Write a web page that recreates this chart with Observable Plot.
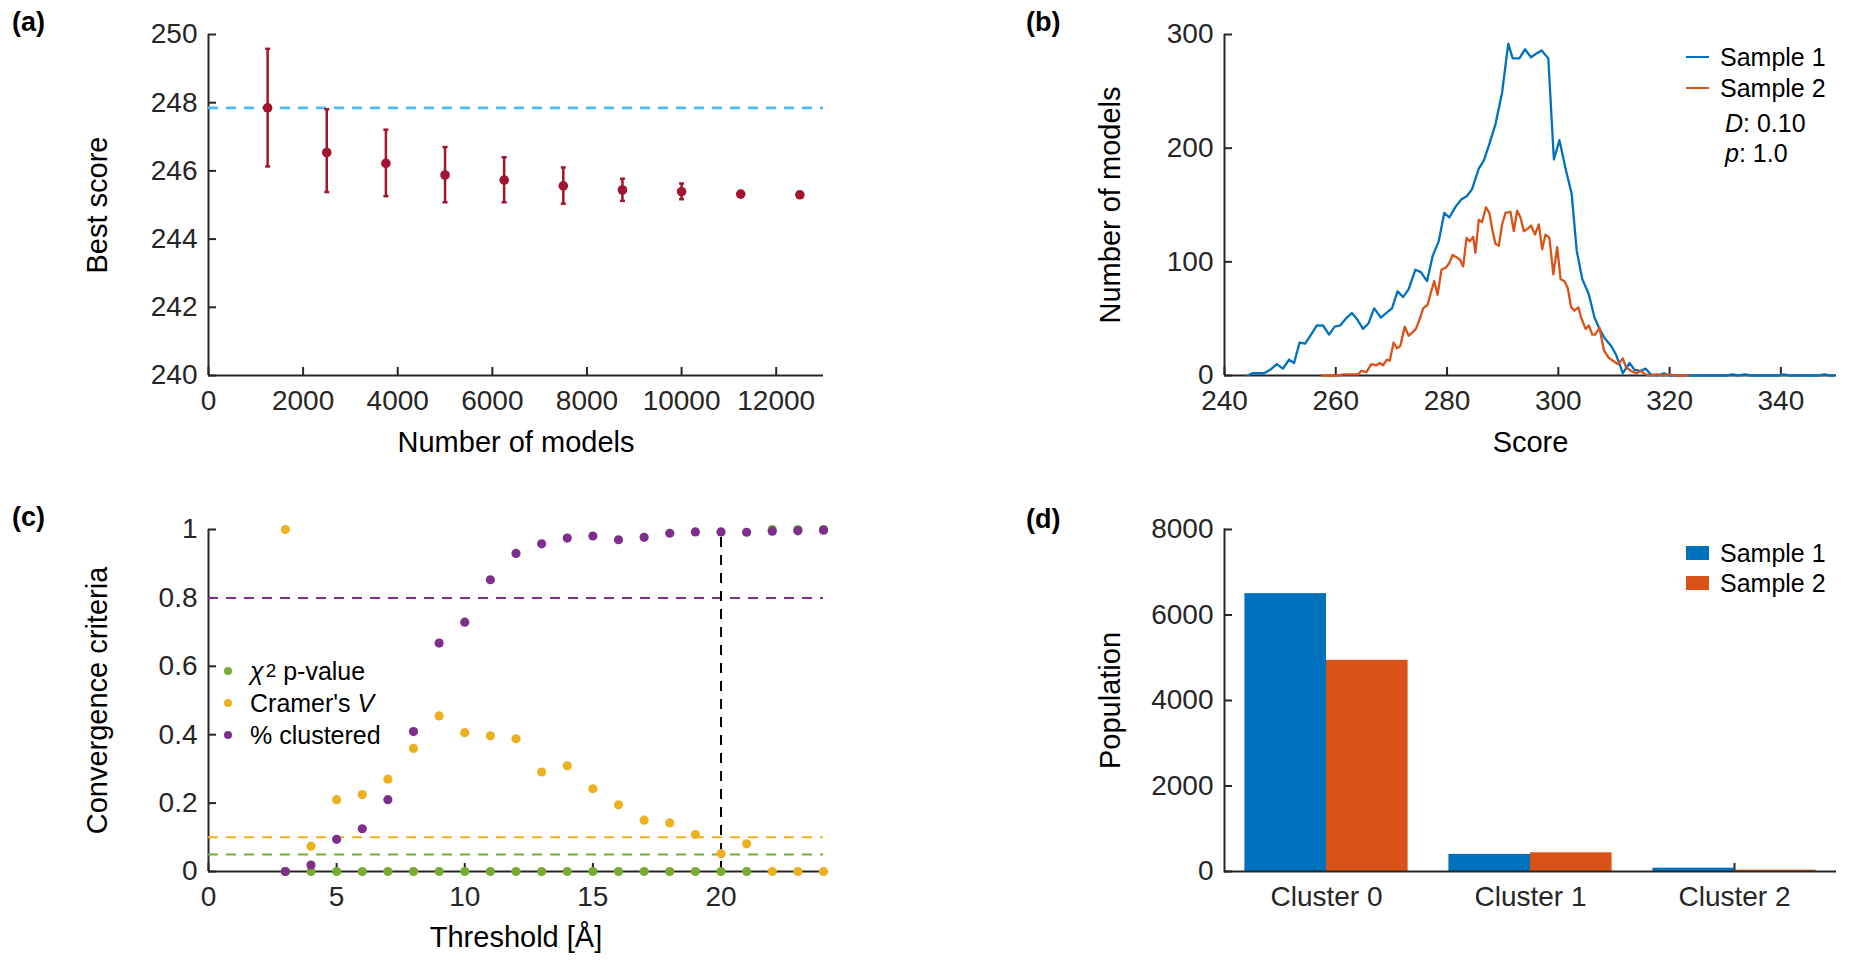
<!DOCTYPE html>
<html><head><meta charset="utf-8">
<script src="https://cdn.jsdelivr.net/npm/d3@7"></script>
<script src="https://cdn.jsdelivr.net/npm/@observablehq/plot@0.6"></script>
<style>
body{margin:0;background:#fff;}
#fig{position:relative;width:1851px;height:965px;overflow:hidden;font-family:"Liberation Sans",Arial,Helvetica,sans-serif;color:#000;background:#fff;}
.panel{position:absolute;}
.plabel{position:absolute;font-weight:bold;font-size:27px;line-height:1;color:#000;}
.leg{position:absolute;font-size:25px;line-height:30px;height:30px;display:flex;align-items:center;color:#000;white-space:nowrap;}
.sw-line{display:inline-block;width:23px;height:0;border-top:2.5px solid;margin-right:11px;}
.sw-rect{display:inline-block;width:23px;height:14px;margin-right:11px;}
.sw-dot{display:inline-block;width:8px;height:8px;border-radius:50%;margin-right:18px;}
sup{font-size:19px;vertical-align:12px;line-height:0;margin-left:2px;}
</style></head>
<body>
<div id="fig"></div>
<script>
// ---------------- data ----------------
// (a) best score vs number of models
const aModels = [1250, 2500, 3750, 5000, 6250, 7500, 8750, 10000, 11250, 12500];
const aBest   = [247.85, 246.54, 246.22, 245.88, 245.73, 245.56, 245.44, 245.39, 245.32, 245.30];
const aLow    = [246.13, 245.38, 245.26, 245.08, 245.08, 245.04, 245.12, 245.17, 245.32, 245.30];
const aHigh   = [249.58, 247.81, 247.21, 246.70, 246.40, 246.10, 245.77, 245.63, 245.32, 245.30];
const aReference = 247.85;
const aXTicks = [0, 2000, 4000, 6000, 8000, 10000, 12000];
const aYTicks = [240, 242, 244, 246, 248, 250];

// (b) score distributions
const s1Score = [244.2,245.0,246.0,247.1,248.2,249.4,250.5,251.6,252.5,253.5,254.5,255.7,256.6,257.7,258.8,259.8,260.8,261.8,262.9,263.9,264.9,265.9,266.9,268.1,269.1,270.1,271.1,272.1,273.1,274.3,275.3,276.4,277.4,278.5,279.5,280.4,281.6,282.6,283.6,284.5,285.7,286.6,287.5,288.7,289.9,291.0,291.8,293.0,294.0,295.1,296.0,297.0,298.2,299.2,300.2,301.4,302.4,303.3,304.3,305.5,306.5,307.4,308.3,309.5,310.4,311.6,312.8,313.7,314.7,315.7,316.6,317.8,319.0,320.0,330.3,331.3,332.3,333.6,334.6,339.5,340.5,341.5,346.8,347.8,348.8,349.5];
const s1Count = [0,2,2,2,5,10,6,14,11,29,28,37,44,44,36,43,44,50,55,49,41,46,59,51,55,59,74,69,76,93,91,83,105,118,143,139,149,155,158,164,182,189,202,221,249,292,279,279,287,280,283,286,279,190,207,180,160,110,85,71,51,41,33,26,18,2,11,5,4,6,1,0,2,0,0,1,0,1,0,0,1,0,0,1,0,0];
const s2Score = [257.5,260.2,261.4,264.0,264.6,265.5,266.4,267.3,267.9,268.5,269.2,269.7,270.4,271.0,271.6,272.4,273.1,273.8,274.4,275.2,275.7,276.5,277.1,277.7,278.3,279.0,279.8,280.4,281.0,281.7,282.3,282.9,283.5,284.1,284.7,285.1,285.7,286.3,287.0,287.6,288.2,288.7,289.3,289.9,290.5,291.4,292.0,292.6,293.2,293.8,294.5,295.1,295.8,296.5,297.1,297.7,298.4,299.1,299.8,300.4,301.1,301.7,302.3,302.9,303.6,304.1,304.9,305.5,306.1,306.6,307.4,308.2,309.0,309.8,310.7,311.6,312.2,313.1,314.0,314.8,315.7,316.6,317.8,318.7,319.9,320.8,323.3];
const s2Count = [0,0,1,1,4,3,10,9,11,9,14,13,29,24,26,43,35,38,41,51,59,62,73,83,71,93,95,99,106,104,102,96,121,118,122,108,137,135,148,143,127,116,114,133,143,144,127,145,139,127,129,132,124,133,111,124,121,89,113,85,83,77,60,57,60,51,41,44,36,36,42,22,16,13,10,15,7,4,2,4,1,0,1,0,1,0,0];
const bXTicks = [240, 260, 280, 300, 320, 340];
const bYTicks = [0, 100, 200, 300];
const bStats = {D: "0.10", p: "1.0"};

// (c) convergence criteria vs threshold
const cThreshold = [3,4,5,6,7,8,9,10,11,12,13,14,15,16,17,18,19,20,21,22,23,24];
const cChi2P     = [0,0,0,0,0,0,0,0,0,0,0,0,0,0,0,0,0,0,0,1,1,1];
const cCramerV   = [1.0,0.074,0.21,0.225,0.27,0.36,0.455,0.406,0.397,0.388,0.291,0.309,0.242,0.195,0.150,0.142,0.108,0.052,0.081,0,0,0];
const cClustered = [0,0.019,0.094,0.125,0.21,0.409,0.668,0.729,0.853,0.930,0.958,0.975,0.981,0.970,0.977,0.989,0.993,0.993,0.992,0.995,0.996,0.998];
const cCutChi2 = 0.05, cCutV = 0.1, cCutClustered = 0.8;
const cChosen = 20, cChosenTop = 0.993;
const cXTicks = [0, 5, 10, 15, 20];
const cYTicks = [0, 0.2, 0.4, 0.6, 0.8, 1];

// (d) cluster populations
const dClusters = ["Cluster 0", "Cluster 1", "Cluster 2"];
const dSample1 = [6500, 400, 78];
const dSample2 = [4940, 437, 31];
const dYTicks = [0, 2000, 4000, 6000, 8000];

// ---------------- style ----------------
const FONT = '"Liberation Sans", Arial, Helvetica, sans-serif';
const AXC = "#262626";
const BLUE = "#0072BD", ORANGE = "#D95319";
const DASH = "10,8";
const TICK_X = {tickSize: -8, tickPadding: 23, label: null, strokeWidth: 2, stroke: AXC, fill: AXC};
const TICK_Y = {tickSize: -8, tickPadding: 19, label: null, strokeWidth: 2, stroke: AXC, fill: AXC};
const LABEL_SIZE = 29;
const fig = document.getElementById("fig");

function place(svg, left, top) {
  svg.classList.add("panel");
  svg.style.left = left + "px";
  svg.style.top = top + "px";
  fig.appendChild(svg);
}
const baseStyle = {fontFamily: FONT, fontSize: "28px", color: AXC, background: "none", overflow: "visible"};
const fmt = d => String(d);
function axesMarks(xTicks, yTicks) {
  return [
    Plot.axisX(xTicks, {...TICK_X, tickFormat: fmt}),
    Plot.axisY(yTicks, {...TICK_Y, tickFormat: fmt}),
  ];
}
function xLabel(t, dy) { return Plot.text([t], {frameAnchor: "bottom", dy, lineAnchor: "middle", textAnchor: "middle", fontSize: LABEL_SIZE, fill: "#000"}); }
function yLabel(t, dx) { return Plot.text([t], {frameAnchor: "left", dx, rotate: -90, lineAnchor: "middle", textAnchor: "middle", fontSize: LABEL_SIZE, fill: "#000"}); }

// ---------------- (a) ----------------
const aData = aModels.map((n, i) => ({n, best: aBest[i], low: aLow[i], high: aHigh[i]}));
const capSymbol = {draw(context, size) { const w = Math.sqrt(size / Math.PI); context.moveTo(-w, 0); context.lineTo(w, 0); }};
{
  const W = 900, H = 480;
  const svg = Plot.plot({
    width: W, height: H, marginLeft: 208, marginTop: 34, marginRight: W - 823, marginBottom: H - 375,
    style: baseStyle,
    x: {domain: [0, 13000]}, y: {domain: [240, 250]},
    marks: [
      ...axesMarks(aXTicks, aYTicks),
      Plot.ruleX([0], {stroke: AXC, strokeWidth: 2}),
      Plot.ruleY([240], {stroke: AXC, strokeWidth: 2}),
      Plot.ruleY([aReference], {stroke: "#4DBEEE", strokeWidth: 2.7, strokeDasharray: DASH}),
      Plot.ruleX(aData, {x: "n", y1: "low", y2: "high", stroke: "#A2142F", strokeWidth: 2.5}),
      Plot.dot(aData, {x: "n", y: "low", symbol: capSymbol, r: 2.5, stroke: "#A2142F", fill: "none", strokeWidth: 2.5}),
      Plot.dot(aData, {x: "n", y: "high", symbol: capSymbol, r: 2.5, stroke: "#A2142F", fill: "none", strokeWidth: 2.5}),
      Plot.dot(aData, {x: "n", y: "best", r: 4.8, fill: "#A2142F", stroke: null}),
      xLabel("Number of models", 67),
      yLabel("Best score", -111)
    ]
  });
  place(svg, 0, 0);
}

// ---------------- (b) ----------------
const s1 = s1Score.map((x, i) => ({x, y: s1Count[i]}));
const s2 = s2Score.map((x, i) => ({x, y: s2Count[i]}));
{
  const W = 931, H = 480;
  const svg = Plot.plot({
    width: W, height: H, marginLeft: 1224 - 920, marginTop: 34, marginRight: W - (1836 - 920), marginBottom: H - 375,
    style: baseStyle,
    x: {domain: [240, 350]}, y: {domain: [0, 300]},
    marks: [
      ...axesMarks(bXTicks, bYTicks),
      Plot.ruleX([240], {stroke: AXC, strokeWidth: 2}),
      Plot.ruleY([0], {stroke: AXC, strokeWidth: 2}),
      Plot.line(s1, {x: "x", y: "y", stroke: BLUE, strokeWidth: 2.3}),
      Plot.line(s2, {x: "x", y: "y", stroke: ORANGE, strokeWidth: 2.3}),
      xLabel("Score", 67),
      yLabel("Number of models", -114)
    ]
  });
  place(svg, 920, 0);
}

// ---------------- (c) ----------------
const cData = cThreshold.map((t, i) => ({t, chi: cChi2P[i], v: cCramerV[i], pct: cClustered[i]}));
{
  const W = 900, H = 485;
  const svg = Plot.plot({
    width: W, height: H, marginLeft: 208, marginTop: 49, marginRight: W - 823, marginBottom: H - 391,
    style: baseStyle,
    x: {domain: [0, 24]}, y: {domain: [0, 1]},
    marks: [
      ...axesMarks(cXTicks, cYTicks),
      Plot.ruleX([0], {stroke: AXC, strokeWidth: 2}),
      Plot.ruleY([0], {stroke: AXC, strokeWidth: 2}),
      Plot.ruleY([cCutClustered], {stroke: "#7E2F8E", strokeWidth: 2, strokeDasharray: DASH}),
      Plot.ruleY([cCutV], {stroke: "#EDB120", strokeWidth: 2, strokeDasharray: DASH}),
      Plot.ruleY([cCutChi2], {stroke: "#77AC30", strokeWidth: 2, strokeDasharray: DASH}),
      Plot.ruleX([cChosen], {y1: 0, y2: cChosenTop, stroke: "#000", strokeWidth: 2, strokeDasharray: DASH}),
      Plot.dot(cData, {x: "t", y: "chi", r: 4.6, fill: "#77AC30", stroke: null}),
      Plot.dot(cData, {x: "t", y: "v", r: 4.6, fill: "#EDB120", stroke: null}),
      Plot.dot(cData, {x: "t", y: "pct", r: 4.6, fill: "#7E2F8E", stroke: null}),
      xLabel("Threshold [Å]", 66),
      yLabel("Convergence criteria", -111)
    ]
  });
  place(svg, 0, 480);
}

// ---------------- (d) ----------------
const dData = dClusters.map((c, i) => ({c, s1: dSample1[i], s2: dSample2[i]}));
{
  const W = 931, H = 485;
  const left = 1224 - 920, right = W - (1836 - 920);
  const frameW = W - left - right;
  const pin = 0.2, pout = 0.1;
  const step = frameW / (dClusters.length - pin + 2 * pout);
  const half = step * (1 - pin) / 2;
  const svg = Plot.plot({
    width: W, height: H, marginLeft: left, marginTop: 49, marginRight: right, marginBottom: H - 391,
    style: baseStyle,
    x: {type: "band", domain: dClusters, paddingInner: pin, paddingOuter: pout, round: false},
    y: {domain: [0, 8000]},
    marks: [
      Plot.axisX(dClusters, TICK_X),
      Plot.axisY(dYTicks, {...TICK_Y, tickFormat: fmt}),
      Plot.frame({anchor: "left", stroke: AXC, strokeWidth: 2}),
      Plot.barY(dData, {x: "c", y: "s1", fill: BLUE, insetRight: half}),
      Plot.barY(dData, {x: "c", y: "s2", fill: ORANGE, insetLeft: half}),
      Plot.ruleY([0], {stroke: AXC, strokeWidth: 2}),
      yLabel("Population", -114)
    ]
  });
  place(svg, 920, 480);
}

// ---------------- panel labels & legends ----------------
function addDiv(cls, html, left, top) {
  const d = document.createElement("div");
  d.className = cls; d.innerHTML = html;
  d.style.left = left + "px"; d.style.top = top + "px";
  fig.appendChild(d);
}
addDiv("plabel", "(a)", 12, 9);
addDiv("plabel", "(b)", 1026, 9);
addDiv("plabel", "(c)", 12, 504);
addDiv("plabel", "(d)", 1026, 506);

addDiv("leg", `<span class="sw-line" style="border-color:${BLUE}"></span>Sample 1`, 1686, 57 - 15);
addDiv("leg", `<span class="sw-line" style="border-color:${ORANGE}"></span>Sample 2`, 1686, 88 - 15);
addDiv("leg", `<i>D</i>: ${bStats.D}`, 1725, 123 - 15);
addDiv("leg", `<i>p</i>: ${bStats.p}`, 1725, 153 - 15);

addDiv("leg", `<span class="sw-dot" style="background:#77AC30"></span><i>χ</i><sup>2</sup>&nbsp;p-value`, 224, 671 - 15);
addDiv("leg", `<span class="sw-dot" style="background:#EDB120"></span>Cramer's&nbsp;<i>V</i>`, 224, 703 - 15);
addDiv("leg", `<span class="sw-dot" style="background:#7E2F8E"></span>% clustered`, 224, 735 - 15);

addDiv("leg", `<span class="sw-rect" style="background:${BLUE}"></span>Sample 1`, 1686, 553 - 15);
addDiv("leg", `<span class="sw-rect" style="background:${ORANGE}"></span>Sample 2`, 1686, 583 - 15);
</script>
</body></html>
